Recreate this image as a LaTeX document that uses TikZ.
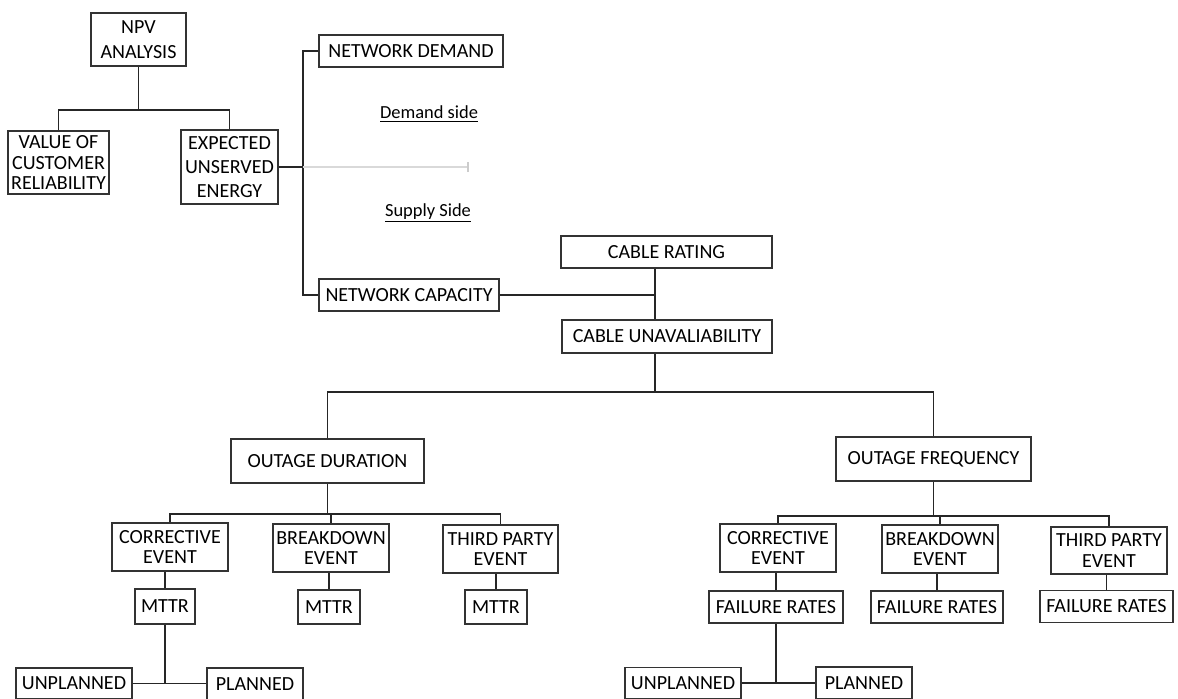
\documentclass[tikz,border=0pt]{standalone}
\usepackage{fontspec}
\setmainfont{Carlito}
\newdimen\pxu
\pxu=0.02cm
\begin{document}
\begin{tikzpicture}[x=0.02cm, y=-0.02cm]
\tikzset{ box/.style 2 args={draw=black!80, line width=0.7pt, align=center, inner sep=0pt,
            minimum width=#1\pxu, minimum height=#2\pxu,
            font=\fontsize{11.4}{11.6}\selectfont},
          wire/.style={black!85, line width=0.7pt},
          side/.style={font=\fontsize{10.5}{12}\selectfont} }

\useasboundingbox (0,0) rectangle (1178,698);
%\draw [lightgray, dashed](0,0) grid[step=50] (1178,698);

\node [box={95}{53}]  (npv) at (138.5,39.5) {NPV\\[3pt]ANALYSIS};
\node [box={101}{63}] (voc) at (58.5,162.5) {VALUE OF\\CUSTOMER\\RELIABILITY};
\node [box={97}{74}]  (eue) at (229.5,167) {EXPECTED\\[2pt]UNSERVED\\[2pt]ENERGY};

\node [box={184}{32}] (demand)   at (411,51)  {NETWORK DEMAND};
\node [box={180}{32}] (capacity) at (409,295) {NETWORK CAPACITY};

\node [side] (dside) at (429,114) {\underline{Demand side}};
\node [side] (sside) at (428,213) {\underline{Supply Side}};

\node [box={211}{32}] (rating) at (666.5,252)   {CABLE RATING};
\node [box={210}{33}] (unav)   at (667,336.5)   {CABLE UNAVALIABILITY};

\node [box={193}{44}] (dur)  at (327.5,461) {OUTAGE DURATION};
\node [box={195}{44}] (freq) at (933.5,459) {OUTAGE FREQUENCY};

% duration side
\node [box={116}{48}] (lce) at (170,547)   {CORRECTIVE\\EVENT};
\node [box={116}{48}] (lbe) at (331,548)   {BREAKDOWN\\EVENT};
\node [box={115}{48}] (lte) at (500.5,549) {THIRD PARTY\\EVENT};

\node [box={60}{35}] (lm1) at (165,606.5) {MTTR};
\node [box={62}{34}] (lm2) at (329,607)   {MTTR};
\node [box={62}{34}] (lm3) at (496,607)   {MTTR};

\node [box={116}{31}] (lun) at (74,683.5) {UNPLANNED};
\node [box={96}{32}]  (lpl) at (255,684)  {PLANNED};

% frequency side
\node [box={116}{48}] (rce) at (778,548)    {CORRECTIVE\\EVENT};
\node [box={116}{48}] (rbe) at (940,549)    {BREAKDOWN\\EVENT};
\node [box={116}{47}] (rte) at (1109,550.5) {THIRD PARTY\\EVENT};

\node [box={134}{32}] (rf1) at (776,607)    {FAILURE RATES};
\node [box={132}{32}] (rf2) at (937,607)    {FAILURE RATES};
\node [box={133}{32}] (rf3) at (1106.5,606.5) {FAILURE RATES};

\node [box={116}{31}] (run) at (683,683) {UNPLANNED};
\node [box={96}{32}]  (rpl) at (864,683) {PLANNED};

\coordinate (brk)   at (303,167);
\coordinate (tick)  at (468,167);
\coordinate (jn)    at (655,295);
\coordinate (split) at (655,392);

\draw [wire] (npv.south) -- (npv.south |- 0,110);
\draw [wire] (voc.north) |- (eue.north |- 0,110) -- (eue.north);

\draw [wire] (eue.east) -- (brk);
\draw [wire] (demand.west) -- (demand.west -| brk) |- (capacity.west);
\draw [black!15, line width=0.9pt] (brk) -- (tick);
\draw [black!20, line width=0.9pt] ([yshift=-5\pxu]tick) -- ([yshift=5\pxu]tick);

\draw [wire] (capacity.east) -- (jn);
\draw [wire] (rating.south -| jn) -- (unav.north -| jn);
\draw [wire] (unav.south -| split) -- (split);
\draw [wire] (dur.north) |- (split);
\draw [wire] (freq.north) |- (split);

\draw [wire] (dur.south) -- (dur.south |- 0,514);
\draw [wire] (lce.north) |- (lte.north |- 0,514) -- (lte.north);
\draw [wire] (lbe.north) -- (lbe.north |- 0,514);
\draw [wire] (lm1.north) -- (lm1.north |- lce.south);
\draw [wire] (lm2.north) -- (lm2.north |- lbe.south);
\draw [wire] (lm3.north) -- (lm3.north |- lte.south);
\draw [wire] (lm1.south) -- (lm1.south |- lun.east);
\draw [wire] (lun.east) -- (lun.east -| lpl.west);

\draw [wire] (freq.south) -- (freq.south |- 0,516);
\draw [wire] (rce.north) |- (rte.north |- 0,516) -- (rte.north);
\draw [wire] (rbe.north) -- (rbe.north |- 0,516);
\draw [wire] (rf1.north) -- (rf1.north |- rce.south);
\draw [wire] (rf2.north) -- (rf2.north |- rbe.south);
\draw [wire] (rf3.north) -- (rf3.north |- rte.south);
\draw [wire] (rf1.south) -- (rf1.south |- run.east);
\draw [wire] (run.east) -- (run.east -| rpl.west);

\end{tikzpicture}
\end{document}
